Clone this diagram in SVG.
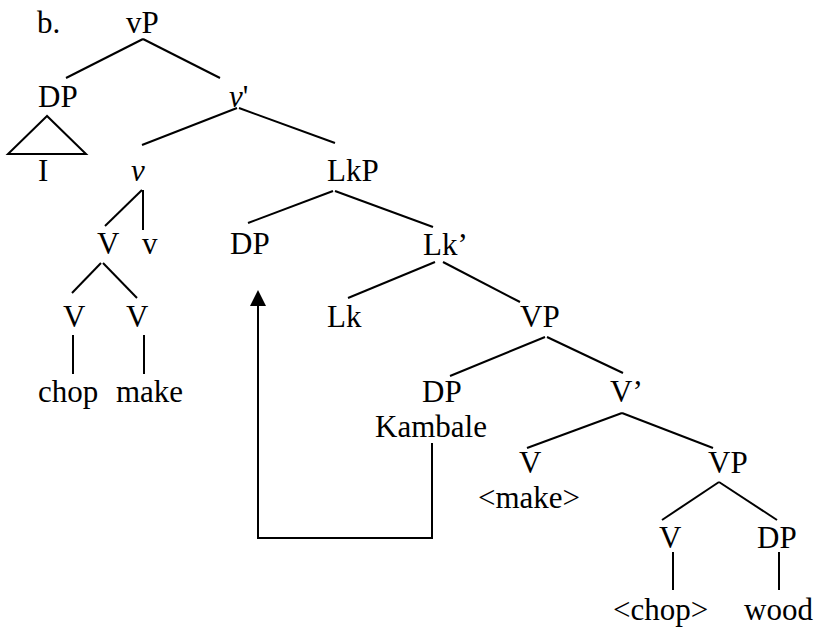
<svg xmlns="http://www.w3.org/2000/svg" width="817" height="629" viewBox="0 0 817 629">
<style>
text{font-family:"Liberation Serif","Times New Roman",serif;font-size:31px;fill:#000}
.e line,.e path{stroke:#000;stroke-width:2;fill:none}
</style>
<rect width="817" height="629" fill="#fff"/>
<text x="37" y="33">b.</text>
<g id="n-vP"><text x="126" y="33">vP</text></g>
<g id="n-DP1"><text x="38" y="107">DP</text></g>
<g id="n-I"><path d="M47,116 L8,154 L86,154 Z" fill="none" stroke="#000" stroke-width="2"/><text x="38" y="181">I</text></g>
<g id="n-vbar"><text x="229" y="107"><tspan font-style="italic">v</tspan>'</text></g>
<g id="n-v"><text x="131" y="181" font-style="italic">v</text></g>
<g id="n-LkP"><text x="327" y="181">LkP</text></g>
<g id="n-V1"><text x="97" y="254">V</text></g>
<g id="n-v2"><text x="142" y="254">v</text></g>
<g id="n-DP2"><text x="230" y="254">DP</text></g>
<g id="n-Lkbar"><text x="423" y="255">Lk’</text></g>
<g id="n-V2"><text x="63" y="327">V</text></g>
<g id="n-V3"><text x="126" y="327">V</text></g>
<g id="n-Lk"><text x="327" y="327">Lk</text></g>
<g id="n-VP1"><text x="520" y="327">VP</text></g>
<g id="n-chop"><text x="38" y="402">chop</text></g>
<g id="n-make"><text x="116" y="402">make</text></g>
<g id="n-DP3"><text x="422" y="402">DP</text><text x="375" y="437">Kambale</text></g>
<g id="n-Vbar"><text x="610" y="402">V’</text></g>
<g id="n-V4"><text x="519" y="473">V</text><text x="478" y="508">&lt;make&gt;</text></g>
<g id="n-VP2"><text x="708" y="473">VP</text></g>
<g id="n-V5"><text x="659" y="548">V</text></g>
<g id="n-DP4"><text x="757" y="548">DP</text></g>
<g id="n-chop2"><text x="613" y="620">&lt;chop&gt;</text></g>
<g id="n-wood"><text x="744" y="620">wood</text></g>
<g id="edges" class="e">
<line x1="143" y1="39" x2="66" y2="78"/>
<line x1="143" y1="39" x2="220" y2="78"/>
<line x1="237" y1="108" x2="142" y2="145"/>
<line x1="239" y1="108" x2="335" y2="143"/>
<line x1="142" y1="190" x2="105" y2="226"/>
<line x1="143" y1="190" x2="143" y2="230"/>
<line x1="333" y1="191" x2="248" y2="223"/>
<line x1="335" y1="191" x2="433" y2="227"/>
<line x1="101" y1="263" x2="72" y2="293"/>
<line x1="103" y1="263" x2="137" y2="298"/>
<line x1="73" y1="335" x2="73" y2="374"/>
<line x1="144" y1="335" x2="144" y2="374"/>
<line x1="435" y1="262" x2="348" y2="298"/>
<line x1="443" y1="262" x2="520" y2="302"/>
<line x1="545" y1="337" x2="450" y2="376"/>
<line x1="547" y1="337" x2="623" y2="373"/>
<line x1="622" y1="413" x2="527" y2="448"/>
<line x1="622" y1="413" x2="713" y2="448"/>
<line x1="719" y1="482" x2="662" y2="520"/>
<line x1="719" y1="482" x2="777" y2="520"/>
<line x1="673" y1="552" x2="673" y2="590"/>
<line x1="779" y1="552" x2="779" y2="590"/>
<path d="M432,443 V538 H258 V304"/>
<polygon points="258,290 250,306 266,306" fill="#000"/>
</g>
</svg>
